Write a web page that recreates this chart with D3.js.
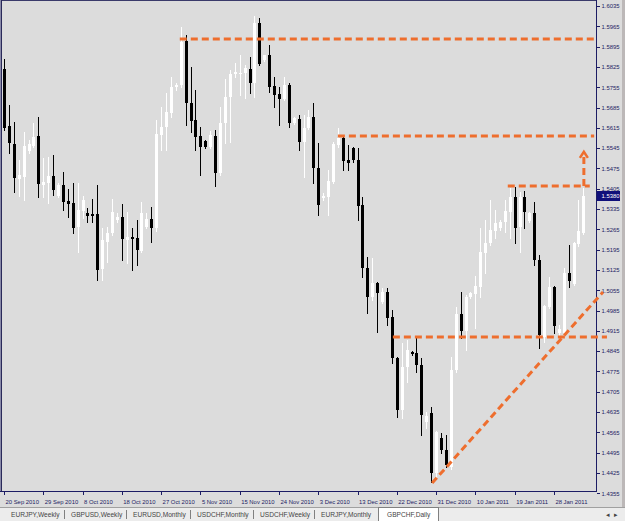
<!DOCTYPE html>
<html>
<head>
<meta charset="utf-8">
<script src="https://cdn.jsdelivr.net/npm/d3@7"></script>
<style>
  html, body { margin: 0; padding: 0; background: #dcdcdc; }
  svg { display: block; font-family: "Liberation Sans", Arial, sans-serif; }
  .wick, .body, .frame { shape-rendering: crispEdges; }
  .axis text { fill: #1c1c64; font-size: 5.9px; font-family: "Liberation Sans", Arial, sans-serif; }
  .axis line { stroke: #1c1c64; shape-rendering: crispEdges; }
  .level { fill: none; stroke: #ee6e2e; stroke-width: 3; stroke-dasharray: 7,4; }
  .tab { fill: #444; font-size: 6.6px; }
</style>
</head>
<body>
<div id="chart"></div>
<script>
// GBPCHF daily, 20 Sep 2010 - 31 Jan 2011
var opens = [1.5818,1.5621,1.5559,1.5439,1.5446,1.5535,1.5552,1.5587,1.5418,1.5425,
  1.5449,1.5380,1.5418,1.5363,1.5356,1.5273,1.5328,1.5321,1.5318,1.5318,
  1.5128,1.5221,1.5252,1.5297,1.5308,1.5228,1.5239,1.5235,1.5191,1.5273,
  1.5301,1.5270,1.5591,1.5618,1.5666,1.5756,1.5763,1.5915,1.5701,1.5642,
  1.5587,1.5570,1.5549,1.5587,1.5459,1.5632,1.5721,1.5801,1.5801,1.5804,
  1.5818,1.5770,1.5977,1.5849,1.5866,1.5759,1.5732,1.5715,1.5763,1.5632,
  1.5646,1.5566,1.5615,1.5652,1.5477,1.5373,1.5377,1.5428,1.5556,1.5580,
  1.5504,1.5546,1.5504,1.5349,1.5132,1.5032,1.5080,1.5015,1.5049,1.4963,
  1.4822,1.4642,1.4791,1.4842,1.4839,1.4797,1.4601,1.4632,1.4425,1.4546,
  1.4504,1.4446,1.4780,1.4973,1.4915,1.5032,1.5042,1.5066,1.5184,1.5218,
  1.5259,1.5270,1.5291,1.5325,1.5377,1.5273,1.5377,1.5294,1.5321,1.5159,
  1.4894,1.4997,1.5066,1.4908,1.4908,1.5115,1.5077,1.5215,1.5252];
var highs = [1.5853,1.5694,1.5635,1.5504,1.5601,1.5573,1.5632,1.5652,1.5511,1.5515,
  1.5521,1.5425,1.5463,1.5404,1.5425,1.5425,1.5380,1.5339,1.5370,1.5418,
  1.5270,1.5273,1.5370,1.5321,1.5352,1.5325,1.5270,1.5297,1.5359,1.5321,
  1.5342,1.5642,1.5687,1.5735,1.5791,1.5770,1.5963,1.5935,1.5825,1.5746,
  1.5618,1.5573,1.5604,1.5608,1.5687,1.5784,1.5815,1.5839,1.5866,1.5832,
  1.5859,1.6001,1.5994,1.5866,1.5901,1.5791,1.5756,1.5791,1.5770,1.5652,
  1.5659,1.5659,1.5677,1.5701,1.5563,1.5391,1.5470,1.5566,1.5615,1.5587,
  1.5556,1.5549,1.5546,1.5377,1.5170,1.5166,1.5084,1.5063,1.5063,1.4987,
  1.4825,1.4873,1.4884,1.4846,1.4891,1.4822,1.4635,1.4653,1.4570,1.4563,
  1.4556,1.4825,1.4997,1.5049,1.5039,1.5049,1.5104,1.5270,1.5297,1.5366,
  1.5332,1.5297,1.5366,1.5408,1.5411,1.5394,1.5397,1.5325,1.5359,1.5177,
  1.5004,1.5101,1.5070,1.4935,1.5132,1.5211,1.5221,1.5366,1.5408];
var lows = [1.5608,1.5528,1.5394,1.5380,1.5366,1.5528,1.5549,1.5377,1.5377,1.5356,
  1.5384,1.5377,1.5332,1.5308,1.5252,1.5187,1.5304,1.5291,1.5291,1.5091,
  1.5091,1.5152,1.5246,1.5291,1.5159,1.5149,1.5125,1.5142,1.5187,1.5270,
  1.5221,1.5259,1.5539,1.5539,1.5652,1.5746,1.5756,1.5625,1.5601,1.5539,
  1.5452,1.5546,1.5546,1.5415,1.5452,1.5563,1.5566,1.5791,1.5728,1.5718,
  1.5735,1.5721,1.5832,1.5846,1.5739,1.5687,1.5625,1.5711,1.5618,1.5628,
  1.5539,1.5446,1.5611,1.5425,1.5315,1.5366,1.5315,1.5425,1.5549,1.5470,
  1.5470,1.5497,1.5297,1.5101,1.4977,1.5021,1.4911,1.5011,1.4935,1.4804,
  1.4618,1.4615,1.4739,1.4832,1.4773,1.4556,1.4580,1.4394,1.4408,1.4494,
  1.4446,1.4439,1.4773,1.4891,1.4849,1.5028,1.4925,1.5032,1.5115,1.5211,
  1.5235,1.5263,1.5256,1.5235,1.5218,1.5187,1.5270,1.5291,1.5142,1.4856,
  1.4877,1.4994,1.4908,1.4897,1.4901,1.5066,1.5073,1.5208,1.5249];
var closes = [1.5615,1.5563,1.5442,1.5452,1.5552,1.5559,1.5584,1.5421,1.5428,1.5449,
  1.5401,1.5418,1.5359,1.5352,1.5270,1.5332,1.5366,1.5311,1.5311,1.5125,
  1.5228,1.5252,1.5325,1.5308,1.5232,1.5239,1.5232,1.5194,1.5321,1.5301,
  1.5270,1.5594,1.5618,1.5670,1.5756,1.5763,1.5911,1.5701,1.5639,1.5584,
  1.5549,1.5549,1.5591,1.5459,1.5632,1.5721,1.5801,1.5808,1.5804,1.5821,
  1.5770,1.5977,1.5835,1.5866,1.5756,1.5728,1.5715,1.5763,1.5632,1.5649,
  1.5566,1.5615,1.5652,1.5477,1.5349,1.5380,1.5432,1.5559,1.5580,1.5501,
  1.5494,1.5504,1.5346,1.5132,1.5032,1.5080,1.5046,1.5049,1.4959,1.4822,
  1.4642,1.4791,1.4849,1.4835,1.4797,1.4625,1.4622,1.4425,1.4566,1.4504,
  1.4453,1.4780,1.4973,1.4915,1.5032,1.5046,1.5070,1.5187,1.5218,1.5263,
  1.5287,1.5291,1.5328,1.5377,1.5270,1.5377,1.5325,1.5321,1.5159,1.4901,
  1.5001,1.5066,1.4932,1.4922,1.5115,1.5087,1.5218,1.5259,1.5380];

var yTicks = [1.6035,1.5965,1.5895,1.5825,1.5755,1.5685,1.5615,1.5545,1.5475,1.5405,
  1.5335,1.5265,1.5195,1.5125,1.5055,1.4985,1.4915,1.4845,1.4775,1.4705,
  1.4635,1.4565,1.4495,1.4425,1.4355];
var xTickBars = [0,8,16,24,32,40,48,56,64,72,80,88,96,104,112];
var xTickLabels = ["20 Sep 2010","29 Sep 2010","8 Oct 2010","18 Oct 2010","27 Oct 2010",
  "5 Nov 2010","15 Nov 2010","24 Nov 2010","3 Dec 2010","13 Dec 2010","22 Dec 2010",
  "31 Dec 2010","10 Jan 2011","19 Jan 2011","28 Jan 2011"];
var lastPrice = 1.5380;

// hand drawn levels: [bar from, bar to, price]
var levels = [[35.8,120.6,1.5921],[68,120.2,1.5587],[102.6,119.3,1.5414],[79.2,122.8,1.4894]];
// trend line: [bar, price] -> [bar, price]
var trend = [[87.2,1.4390],[122,1.5049]];
var arrow = [[118.1,1.5414],[118.1,1.5532]];

var tabs = ["EURJPY,Weekly","GBPUSD,Weekly","EURUSD,Monthly","USDCHF,Monthly",
  "USDCHF,Weekly","EURJPY,Monthly","GBPCHF,Daily"];
var activeTab = "GBPCHF,Daily";

const WIDTH = 625;
const HEIGHT = 521;
const RIGHT = 596;
const BOTTOM = 491;
const ORANGE = "#ee6e2e";

var svg = d3.select("#chart").append("svg")
  .attr("width", WIDTH)
  .attr("height", HEIGHT);

svg.append("rect").attr("width", WIDTH).attr("height", HEIGHT).attr("fill", "#dcdcdc");

var x = d3.scaleLinear().domain([0, opens.length - 1]).range([4, 4 + (opens.length - 1) * 4.91]);
var y = d3.scaleLinear().domain([1.4355, 1.6035]).range([493.2, 6]);

// candles
var bars = d3.range(opens.length).map(function(i) {
  return { i: i, o: opens[i], h: highs[i], l: lows[i], c: closes[i] };
});
var plot = svg.append("g");
var candle = plot.selectAll(".candle")
  .data(bars)
  .enter().append("g")
  .attr("class", "candle");

function cx(d) { return Math.round(x(d.i)); }
function colour(d) { return d.c >= d.o ? "#ffffff" : "#000000"; }

candle.append("line")
  .attr("class", "wick")
  .attr("x1", function(d) { return cx(d) + 0.5; })
  .attr("x2", function(d) { return cx(d) + 0.5; })
  .attr("y1", function(d) { return Math.round(y(d.h)); })
  .attr("y2", function(d) { return Math.round(y(d.l)) + 1; })
  .attr("stroke", colour);

candle.append("rect")
  .attr("class", "body")
  .attr("x", function(d) { return cx(d) - 1; })
  .attr("width", 3)
  .attr("y", function(d) { return Math.round(y(Math.max(d.o, d.c))); })
  .attr("height", function(d) { return Math.max(1, Math.round(y(Math.min(d.o, d.c)) - y(Math.max(d.o, d.c)))); })
  .attr("fill", colour);

// frame
svg.append("line").attr("class", "frame").attr("x1", 0).attr("x2", RIGHT).attr("y1", 0.5).attr("y2", 0.5).attr("stroke", "#3a3a6a");
svg.append("line").attr("class", "frame").attr("x1", 0.5).attr("x2", 0.5).attr("y1", 0).attr("y2", BOTTOM).attr("stroke", "#8a8aa8");
svg.append("line").attr("class", "frame").attr("x1", 1.5).attr("x2", 1.5).attr("y1", 0).attr("y2", BOTTOM).attr("stroke", "#2a2a5a");
svg.append("line").attr("class", "frame").attr("x1", RIGHT + 0.5).attr("x2", RIGHT + 0.5).attr("y1", 0).attr("y2", BOTTOM + 1).attr("stroke", "#1c1c64");
svg.append("line").attr("class", "frame").attr("x1", 0).attr("x2", RIGHT + 1).attr("y1", BOTTOM + 0.5).attr("y2", BOTTOM + 0.5).attr("stroke", "#1c1c64");

// price axis
var yAxis = svg.append("g")
  .attr("class", "axis")
  .attr("transform", "translate(" + (RIGHT + 0.5) + ",0)")
  .call(d3.axisRight(y).tickValues(yTicks).tickSize(3).tickSizeOuter(0).tickPadding(2)
    .tickFormat(d3.format(".4f")));
yAxis.select(".domain").remove();

var py = Math.round(y(lastPrice));
svg.append("rect").attr("x", RIGHT + 1).attr("y", py - 5).attr("width", 23).attr("height", 10).attr("fill", "#10107a");
svg.append("text").attr("x", RIGHT + 5.5).attr("y", py + 2)
  .attr("fill", "#ffffff").style("font-size", "5.9px").text(lastPrice.toFixed(4));

// time axis
var xAxis = svg.append("g")
  .attr("class", "axis")
  .attr("transform", "translate(0," + (BOTTOM + 0.5) + ")")
  .call(d3.axisBottom(x).tickValues(xTickBars).tickSize(3).tickSizeOuter(0)
    .tickFormat(function(d, i) { return xTickLabels[i]; }));
xAxis.select(".domain").remove();
xAxis.selectAll("text").attr("text-anchor", "start").attr("x", 1).attr("y", 8.5).attr("dy", "0.71em");

// analysis drawings
var levelG = svg.append("g");
levelG.selectAll(".level")
  .data(levels)
  .enter().append("line")
  .attr("class", "level")
  .attr("x1", function(d) { return x(d[0]); })
  .attr("x2", function(d) { return x(d[1]); })
  .attr("y1", function(d) { return y(d[2]); })
  .attr("y2", function(d) { return y(d[2]); });

levelG.append("line")
  .attr("class", "level")
  .attr("x1", x(trend[0][0])).attr("y1", y(trend[0][1]))
  .attr("x2", x(trend[1][0])).attr("y2", y(trend[1][1]));

levelG.append("line")
  .attr("class", "level")
  .attr("x1", x(arrow[0][0])).attr("y1", y(arrow[0][1]))
  .attr("x2", x(arrow[1][0])).attr("y2", y(arrow[1][1]) + 5);
var ax = x(arrow[1][0]), ay = y(arrow[1][1]);
levelG.append("path")
  .attr("d", "M" + (ax - 4) + "," + (ay + 6) + " L" + ax + "," + ay + " L" + (ax + 4) + "," + (ay + 6))
  .attr("fill", "none").attr("stroke", ORANGE).attr("stroke-width", 2.5);

// window border on the right
svg.append("rect").attr("x", 622).attr("y", 0).attr("width", 3).attr("height", 507).attr("fill", "#bcb8b8");

// symbol tabs, laid out one after another like the terminal does
var tabBar = svg.append("g");
tabBar.append("rect").attr("x", 0).attr("y", 507).attr("width", WIDTH).attr("height", 14).attr("fill", "#ececec");
tabBar.append("line").attr("class", "frame").attr("x1", 0).attr("x2", WIDTH).attr("y1", 507.5).attr("y2", 507.5).attr("stroke", "#a0a0a0");

var tx = 11;
tabs.forEach(function(name, i) {
  if (name === activeTab) {
    tx += 16;
    var box = tabBar.append("path").attr("class", "frame");
    var t = tabBar.append("text").attr("class", "tab").attr("x", tx).attr("y", 517)
      .attr("fill", "#111").text(name);
    var w = t.node().getComputedTextLength();
    box.attr("d", "M" + (Math.round(tx - 9) + 0.5) + ",521 V507.5 H" + (Math.round(tx + w + 8) + 0.5) + " V521")
      .attr("fill", "#ffffff").attr("stroke", "#808080");
    return;
  }
  var t = tabBar.append("text").attr("class", "tab").attr("x", tx).attr("y", 517).text(name);
  var w = t.node().getComputedTextLength();
  if (tabs[i + 1] !== activeTab) {
    var sx = Math.round(tx + w + 4) + 0.5;
    tabBar.append("line").attr("class", "frame")
      .attr("x1", sx).attr("x2", sx).attr("y1", 510).attr("y2", 519)
      .attr("stroke", "#808080");
    tx = sx + 6.5;
  } else {
    tx = tx + w;
  }
});
tabBar.append("text").attr("class", "tab").attr("x", 606).attr("y", 517).attr("fill", "#999").text("\u25C2");
tabBar.append("text").attr("class", "tab").attr("x", 614).attr("y", 517).attr("fill", "#999").text("\u25B8");
</script>
</body>
</html>
